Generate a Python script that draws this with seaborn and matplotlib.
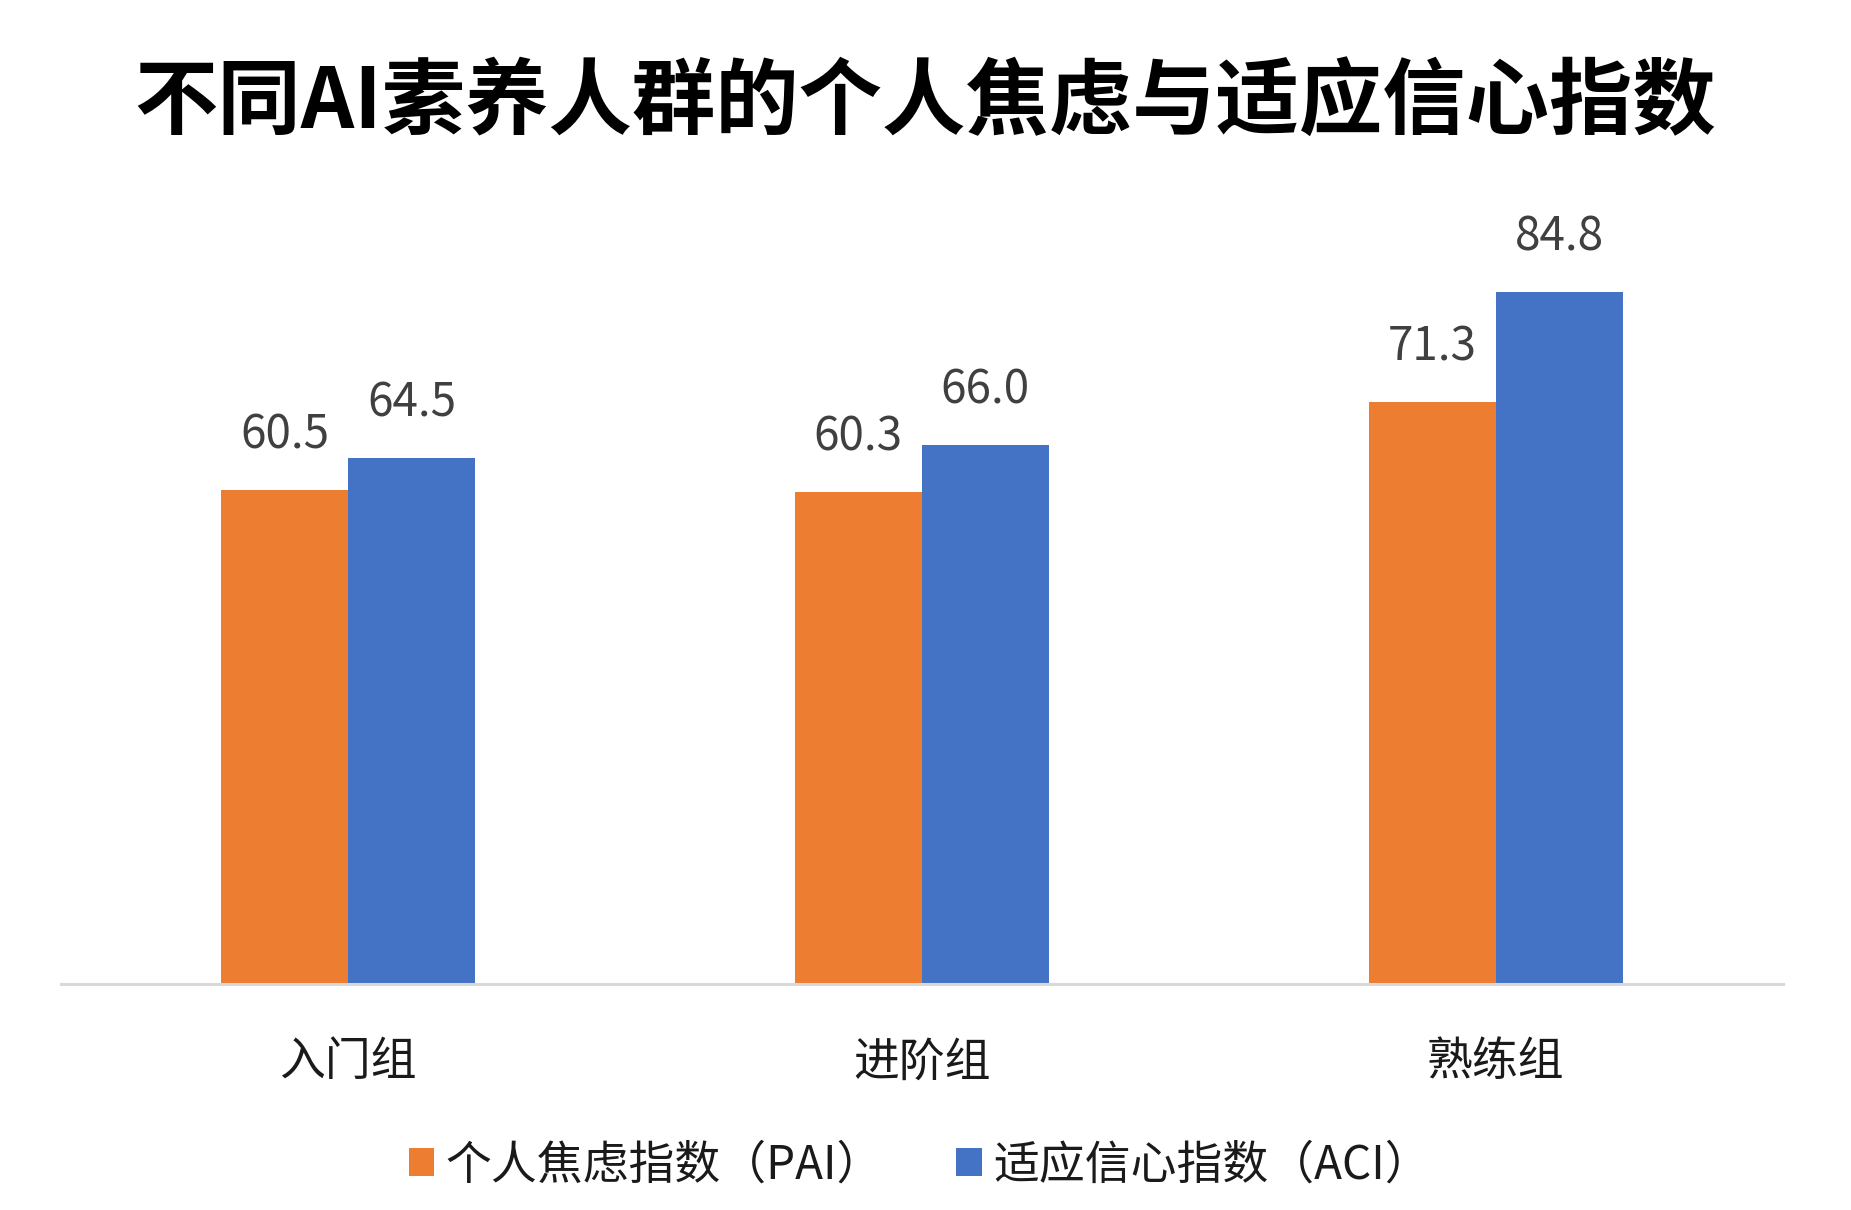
import numpy as np
import pandas as pd
import matplotlib
matplotlib.use("Agg")
import matplotlib.pyplot as plt
import seaborn as sns

# data
groups = ["入门组", "进阶组", "熟练组"]
series = ["个人焦虑指数（PAI）", "适应信心指数（ACI）"]
pai = [60.5, 60.3, 71.3]
aci = [64.5, 66.0, 84.8]

colors = ["#ED7D31", "#4472C4"]

df = pd.DataFrame({
    "group": groups * 2,
    "series": [series[0]] * 3 + [series[1]] * 3,
    "value": pai + aci,
})

sns.set_theme(style="white")
plt.rcParams['font.family'] = ['Noto Sans CJK SC', 'DejaVu Sans']

fig = plt.figure(figsize=(18.51, 12.10), dpi=100)
ax = fig.add_axes([0.033, 0.187, 0.930, 0.674])

sns.barplot(data=df, x="group", y="value", hue="series", palette=colors,
            width=0.443, saturation=1, gap=0, linewidth=0, ax=ax, legend=True)

ax.set_xlim(-0.5, 2.5)
ax.set_ylim(0, 100)

# value labels above bars
for cont in ax.containers:
    for bar in cont:
        h = bar.get_height()
        ax.annotate(f"{h:.1f}", (bar.get_x() + bar.get_width() / 2, h),
                    xytext=(0, 30), textcoords="offset points",
                    ha="center", va="baseline", fontsize=33, color="#404040",
                    annotation_clip=False)

for s in ["top", "right", "left"]:
    ax.spines[s].set_visible(False)
ax.spines["bottom"].set_color("#D9D9D9")
ax.spines["bottom"].set_linewidth(2.2)
ax.set_yticks([])
ax.set_xlabel("")
ax.set_ylabel("")
ax.tick_params(axis="x", length=0, pad=39, labelsize=33, labelcolor="#1a1a1a")

ax.legend(loc="center", bbox_to_anchor=(0.497, 0.037), bbox_transform=fig.transFigure,
          ncol=2, frameon=False, fontsize=33, handlelength=0.55, handleheight=0.55,
          handletextpad=0.25, columnspacing=1.6, labelcolor="#1a1a1a")

fig.text(0.5, 0.914, "不同AI素养人群的个人焦虑与适应信心指数", ha="center", va="center",
         fontsize=60, fontweight="heavy", color="black")

fig.savefig("out.png", dpi=100, facecolor="white")
